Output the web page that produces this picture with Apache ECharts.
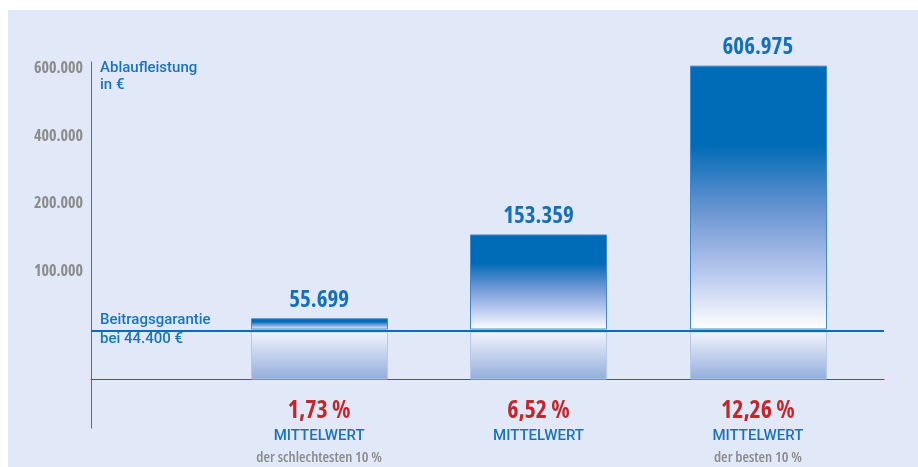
<!DOCTYPE html>
<html>
<head>
<meta charset="utf-8">
<script src="https://cdn.jsdelivr.net/npm/echarts@6/dist/echarts.min.js"></script>
<style>
  html, body { margin: 0; padding: 0; background: #ffffff; }
  #chart { width: 918px; height: 467px; }
</style>
</head>
<body>
<div id="chart"></div>
<script>
// values
const categories = ['schlechteste 10 %', 'Mittelwert', 'beste 10 %'];
const payouts = [55699, 153359, 606975];
const returns = ['1,73 %', '6,52 %', '12,26 %'];
const notes = ['der schlechtesten 10 %', '', 'der besten 10 %'];
const guarantee = 44400;
const tickValues = [100000, 200000, 400000, 600000];

// the printed axis is not linear: 0-100.000 is wider, then every tick is one step
const scaleStops = [[0, 0], [100000, 1.6], [200000, 2.6], [400000, 3.6], [600000, 4.6]];

function toAxis(v) {
  for (let k = 1; k < scaleStops.length; k++) {
    const [v0, p0] = scaleStops[k - 1];
    const [v1, p1] = scaleStops[k];
    if (v <= v1 || k === scaleStops.length - 1) {
      return p0 + (v - v0) / (v1 - v0) * (p1 - p0);
    }
  }
}

function fmt(v) {
  return String(Math.round(v)).replace(/\B(?=(\d{3})+(?!\d))/g, '.');
}

const BLUE = '#0b6db6';
const COND = '"Open Sans", sans-serif';
const LABEL_FONT = 'Roboto, "Noto Sans", sans-serif';

const chart = echarts.init(document.getElementById('chart'));

const barFill = new echarts.graphic.LinearGradient(0, 0, 0, 1, [
  { offset: 0, color: '#006bb6' },
  { offset: 0.3, color: '#006bb6' },
  { offset: 0.55, color: '#6a95d2' },
  { offset: 0.8, color: '#bccbef' },
  { offset: 1, color: '#ffffff' },
]);
const shadowFill = new echarts.graphic.LinearGradient(0, 0, 0, 1, [
  { offset: 0, color: '#f2f4fc' },
  { offset: 1, color: '#93addc' },
]);

function renderBar(params, api) {
  const i = api.value(0);
  const w = api.size([1, 0])[0] * 0.62;
  const top = api.coord([i, api.value(1)]);
  const mid = api.coord([i, toAxis(guarantee)]);
  const base = api.coord([i, 0]);
  const x = Math.round(top[0] - w / 2) + 0.5;
  return {
    type: 'group',
    children: [
      {
        type: 'rect',
        shape: { x: x, y: mid[1] + 1, width: w, height: base[1] - mid[1] - 1 },
        style: { fill: shadowFill, stroke: '#b7c8ea', lineWidth: 1 },
      },
      {
        type: 'rect',
        shape: { x: x, y: top[1], width: w, height: mid[1] - top[1] - 2 },
        style: { fill: barFill, stroke: '#4287c8', lineWidth: 1 },
      },
      {
        type: 'text',
        x: top[0],
        y: top[1] - 7,
        style: {
          text: fmt(api.value(2)),
          align: 'center',
          verticalAlign: 'bottom',
          fill: '#1570b7',
          font: 'bold condensed 23px ' + COND,
        },
      },
    ],
  };
}

const option = {
  animation: false,
  backgroundColor: 'transparent',
  graphic: [
    {
      type: 'rect',
      z: -10,
      left: 8,
      top: 10,
      shape: { width: 910, height: 457 },
      style: { fill: '#e1e8f8' },
    },
    {
      type: 'text',
      left: 100,
      top: 60,
      style: {
        text: 'Ablaufleistung\nin €',
        fill: '#1a74ba',
        font: '500 15px ' + LABEL_FONT,
        lineHeight: 17,
      },
    },
    {
      type: 'text',
      left: 100,
      top: 311,
      style: {
        text: 'Beitragsgarantie\nbei 44.400 €',
        fill: '#1a74ba',
        font: '500 15px ' + LABEL_FONT,
        lineHeight: 19,
      },
    },
  ],
  grid: { left: 91, right: 34, top: 62, bottom: 39, outerBoundsMode: 'none' },
  xAxis: {
    type: 'value',
    min: -1.04,
    max: 2.575,
    splitLine: { show: false },
    axisTick: { show: false },
    axisLine: { show: true, onZero: true, lineStyle: { color: BLUE, width: 1 } },
    axisLabel: {
      customValues: [0, 1, 2],
      margin: -30,
      formatter: (v) => {
        const i = Math.round(v);
        let s = '{pct|' + returns[i] + '}\n{mid|MITTELWERT}';
        if (notes[i]) s += '\n{sub|' + notes[i] + '}';
        return s;
      },
      rich: {
        pct: { color: '#c1272d', fontFamily: COND, fontWeight: 'bold condensed', fontSize: 24, lineHeight: 26 },
        mid: { color: '#1a74ba', fontFamily: LABEL_FONT, fontWeight: 500, fontSize: 15, lineHeight: 24 },
        sub: { color: '#8a8a8a', fontFamily: COND, fontWeight: '600 condensed', fontSize: 15, lineHeight: 20 },
      },
    },
  },
  yAxis: {
    type: 'value',
    min: -0.726,
    max: 4.696,
    splitLine: { show: false },
    axisTick: { show: false },
    axisLine: { show: true, onZero: false, lineStyle: { color: '#2a7bc0', width: 1 } },
    axisLabel: {
      customValues: tickValues.map(toAxis),
      margin: 8,
      color: '#8c8c8c',
      fontFamily: COND,
      fontWeight: 'bold condensed',
      fontSize: 16,
      formatter: (v) => {
        let best = tickValues[0];
        tickValues.forEach((t) => {
          if (Math.abs(toAxis(t) - v) < Math.abs(toAxis(best) - v)) best = t;
        });
        return fmt(best);
      },
    },
  },
  series: [
    {
      name: 'Ablaufleistung',
      type: 'custom',
      renderItem: renderBar,
      encode: { x: 0, y: 1 },
      data: payouts.map((v, i) => [i, toAxis(v), v, categories[i]]),
      markLine: {
        silent: true,
        symbol: 'none',
        label: { show: false },
        lineStyle: { color: BLUE, width: 2, type: 'solid' },
        data: [{ yAxis: toAxis(guarantee) }],
      },
    },
  ],
};

chart.setOption(option);
window.addEventListener('resize', () => chart.resize());
</script>
</body>
</html>
